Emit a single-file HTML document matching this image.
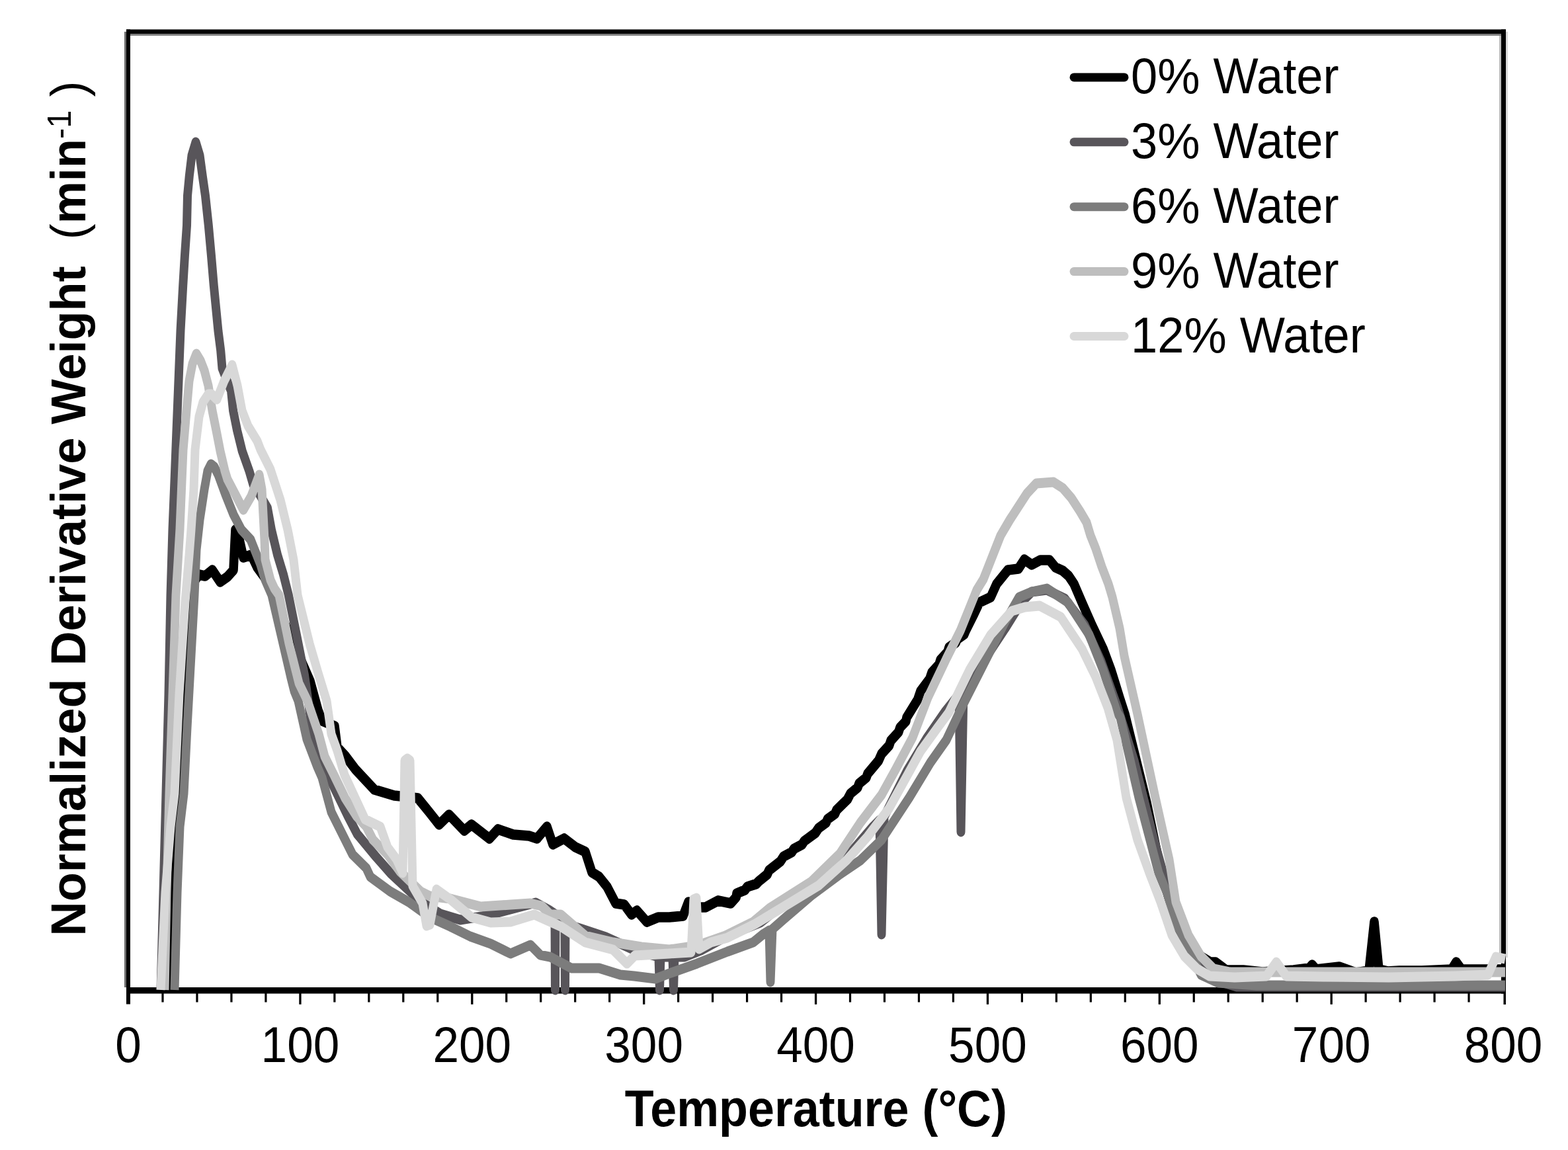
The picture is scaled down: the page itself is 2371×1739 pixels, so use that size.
<!DOCTYPE html>
<html><head><meta charset="utf-8"><title>Normalized Derivative Weight vs Temperature</title>
<style>html,body{margin:0;padding:0;background:#fff;}body{width:2371px;height:1739px;}svg{display:block;}</style>
</head><body>
<svg width="2371" height="1739" viewBox="0 0 2371 1739">
<rect x="0" y="0" width="2371" height="1739" fill="#ffffff"/>
<rect x="188" y="48" width="3" height="1445" fill="#6e6e6e"/>
<rect x="197" y="51" width="2073" height="3" fill="#7e7e7e"/>
<rect x="2267" y="54" width="3" height="1400" fill="#bdbdbd"/>
<rect x="2277" y="48" width="3" height="1400" fill="#d9d9d9"/>
<rect x="191" y="44.5" width="2086" height="6.5" fill="#000"/>
<rect x="191" y="44.5" width="6" height="1474" fill="#000"/>
<rect x="2270" y="44.5" width="7" height="1458" fill="#000"/>
<rect x="2273.5" y="1500" width="3.5" height="19" fill="#000"/>
<rect x="191" y="1493" width="2086" height="9.5" fill="#000"/>
<rect x="244.38" y="1500" width="3.2" height="15.5" fill="#000"/>
<rect x="296.35" y="1500" width="3.2" height="15.5" fill="#000"/>
<rect x="348.33" y="1500" width="3.2" height="15.5" fill="#000"/>
<rect x="400.30" y="1500" width="3.2" height="15.5" fill="#000"/>
<rect x="452.28" y="1500" width="3.3" height="18.8" fill="#000"/>
<rect x="504.26" y="1500" width="3.2" height="15.5" fill="#000"/>
<rect x="556.23" y="1500" width="3.2" height="15.5" fill="#000"/>
<rect x="608.21" y="1500" width="3.2" height="15.5" fill="#000"/>
<rect x="660.18" y="1500" width="3.2" height="15.5" fill="#000"/>
<rect x="712.16" y="1500" width="3.3" height="18.8" fill="#000"/>
<rect x="764.14" y="1500" width="3.2" height="15.5" fill="#000"/>
<rect x="816.11" y="1500" width="3.2" height="15.5" fill="#000"/>
<rect x="868.09" y="1500" width="3.2" height="15.5" fill="#000"/>
<rect x="920.06" y="1500" width="3.2" height="15.5" fill="#000"/>
<rect x="972.04" y="1500" width="3.3" height="18.8" fill="#000"/>
<rect x="1024.02" y="1500" width="3.2" height="15.5" fill="#000"/>
<rect x="1075.99" y="1500" width="3.2" height="15.5" fill="#000"/>
<rect x="1127.97" y="1500" width="3.2" height="15.5" fill="#000"/>
<rect x="1179.94" y="1500" width="3.2" height="15.5" fill="#000"/>
<rect x="1231.92" y="1500" width="3.3" height="18.8" fill="#000"/>
<rect x="1283.90" y="1500" width="3.2" height="15.5" fill="#000"/>
<rect x="1335.87" y="1500" width="3.2" height="15.5" fill="#000"/>
<rect x="1387.85" y="1500" width="3.2" height="15.5" fill="#000"/>
<rect x="1439.82" y="1500" width="3.2" height="15.5" fill="#000"/>
<rect x="1491.80" y="1500" width="3.3" height="18.8" fill="#000"/>
<rect x="1543.78" y="1500" width="3.2" height="15.5" fill="#000"/>
<rect x="1595.75" y="1500" width="3.2" height="15.5" fill="#000"/>
<rect x="1647.73" y="1500" width="3.2" height="15.5" fill="#000"/>
<rect x="1699.70" y="1500" width="3.2" height="15.5" fill="#000"/>
<rect x="1751.68" y="1500" width="3.3" height="18.8" fill="#000"/>
<rect x="1803.66" y="1500" width="3.2" height="15.5" fill="#000"/>
<rect x="1855.63" y="1500" width="3.2" height="15.5" fill="#000"/>
<rect x="1907.61" y="1500" width="3.2" height="15.5" fill="#000"/>
<rect x="1959.58" y="1500" width="3.2" height="15.5" fill="#000"/>
<rect x="2011.56" y="1500" width="3.3" height="18.8" fill="#000"/>
<rect x="2063.54" y="1500" width="3.2" height="15.5" fill="#000"/>
<rect x="2115.51" y="1500" width="3.2" height="15.5" fill="#000"/>
<rect x="2167.49" y="1500" width="3.2" height="15.5" fill="#000"/>
<rect x="2219.46" y="1500" width="3.2" height="15.5" fill="#000"/>
<g transform="scale(1,1.15)">
<polyline points="255.0,1301.7 262.0,1173.9 270.0,1043.5 277.0,913.0 284.0,808.7 293.0,765.2 301.0,755.7 310.0,757.4 321.0,749.6 333.0,765.2 344.0,758.3 353.0,749.6 356.0,696.5 362.0,709.6 368.0,733.0 380.0,729.6 389.0,746.1 405.0,765.2 420.0,800.0 445.0,847.8 469.0,895.7 481.0,933.9 487.0,947.8 506.0,954.8 510.0,982.6 522.0,993.9 538.0,1012.2 566.0,1038.3 596.0,1046.1 615.0,1047.8 632.0,1049.6 649.0,1067.8 664.0,1084.3 679.0,1071.3 702.0,1092.2 713.0,1084.3 740.0,1102.6 753.0,1090.4 776.0,1097.4 800.0,1099.1 812.0,1102.6 827.0,1087.0 836.0,1110.4 853.0,1102.6 870.0,1113.9 885.0,1120.0 895.0,1147.0 906.0,1153.0 918.0,1166.1 931.0,1187.8 944.0,1189.6 955.0,1202.6 963.0,1197.4 978.0,1212.2 995.0,1206.1 1012.0,1206.1 1033.0,1204.3 1041.0,1186.1 1047.0,1193.0 1067.0,1193.0 1086.0,1184.3 1105.0,1187.8 1113.2,1179.7 1114.0,1174.8 1126.4,1170.3 1130.0,1166.1 1143.6,1162.3 1148.0,1158.3 1160.1,1149.8 1163.0,1144.3 1179.9,1132.9 1185.0,1126.1 1197.2,1120.6 1200.5,1116.1 1212.7,1110.6 1216.0,1106.1 1232.9,1095.3 1238.0,1088.7 1249.0,1081.8 1251.5,1077.0 1262.5,1070.1 1265.0,1065.2 1281.4,1051.2 1286.0,1043.5 1296.8,1035.6 1299.0,1030.4 1309.8,1022.6 1312.0,1017.4 1328.5,1000.2 1333.0,991.3 1344.6,980.2 1347.0,973.9 1358.6,962.8 1361.0,956.5 1369.8,948.5 1371.0,943.5 1387.6,920.0 1392.0,908.7 1405.8,892.6 1409.0,884.3 1419.9,873.9 1422.0,867.8 1432.9,857.3 1435.0,851.3 1445.3,845.0 1447.5,840.4 1457.8,834.2 1460.0,829.6 1473.0,807.0 1481.0,792.2 1498.0,785.2 1507.0,767.8 1524.0,749.6 1540.0,747.8 1549.0,735.7 1560.0,742.6 1573.0,736.5 1587.0,736.5 1596.0,746.1 1607.0,750.4 1616.0,757.4 1624.0,767.8 1636.0,792.2 1651.0,821.7 1668.0,853.0 1680.0,880.9 1693.0,917.4 1701.0,939.1 1734.0,1055.7 1756.0,1147.8 1780.0,1217.4 1805.0,1252.2 1830.0,1265.2 1838.0,1265.2 1854.0,1275.7 1880.0,1275.7 1909.0,1278.3 1956.0,1275.7 1980.0,1273.0 1984.0,1268.7 1990.0,1274.8 2025.0,1271.3 2050.0,1279.1 2070.0,1276.5 2078.0,1212.2 2085.0,1274.8 2098.0,1277.4 2116.0,1276.5 2150.0,1276.5 2195.0,1274.8 2202.0,1265.2 2210.0,1274.8 2276.0,1274.8" fill="none" stroke="#000000" stroke-width="13.6" stroke-linejoin="round" stroke-linecap="butt"/>
<polyline points="243.0,1301.7 247.0,1173.9 251.0,1043.5 255.0,913.0 258.0,782.6 261.0,695.7 264.0,632.2 267.0,566.1 270.0,500.9 273.0,434.8 276.7,375.7 279.4,336.5 282.5,296.5 283.5,257.4 286.3,231.3 290.0,204.3 296.0,187.0 302.0,204.3 306.2,231.3 310.5,257.4 315.3,296.5 319.5,336.5 323.3,375.7 329.9,434.8 333.7,460.9 336.0,484.3 343.0,500.0 349.5,513.9 352.6,540.0 358.6,566.1 366.2,593.0 376.8,619.1 383.0,637.4 394.0,652.2 404.4,667.8 410.4,696.5 419.5,729.6 428.6,755.7 436.1,781.7 448.4,834.8 460.5,887.8 466.0,921.7 472.0,960.0 485.0,991.3 498.0,1022.6 512.0,1047.8 526.0,1073.0 540.0,1096.5 569.0,1127.0 591.0,1148.7 620.0,1172.2 636.0,1185.2 666.0,1201.7 696.0,1209.6 734.0,1204.3 772.0,1195.7 810.0,1187.0 830.0,1196.5 839.0,1201.7 839.5,1301.7 840.0,1204.3 854.0,1213.0 854.5,1301.7 855.0,1214.8 880.0,1221.7 916.0,1232.2 960.0,1249.6 996.0,1258.3 997.5,1301.7 999.0,1258.3 1017.0,1258.3 1018.5,1301.7 1020.0,1258.3 1035.0,1258.3 1060.0,1249.6 1100.0,1230.4 1150.0,1213.0 1206.0,1173.9 1250.0,1147.8 1290.0,1117.4 1320.0,1087.0 1330.0,1078.3 1333.0,1228.7 1337.0,1073.9 1372.0,1013.0 1401.0,971.3 1430.0,934.8 1450.0,913.0 1453.0,1093.9 1457.0,908.7 1487.0,869.6 1520.0,826.1 1545.0,791.3 1560.0,778.3 1583.0,775.7 1610.0,787.0 1640.0,821.7 1665.0,869.6 1690.0,930.4 1715.0,1000.0 1745.0,1104.3 1770.0,1182.6 1800.0,1252.2 1830.0,1287.0 1870.0,1297.4 2276.0,1297.4" fill="none" stroke="#58555a" stroke-width="13.0" stroke-linejoin="round" stroke-linecap="butt"/>
<polyline points="264.0,1301.7 268.0,1173.9 272.0,1087.0 278.0,1043.5 283.0,956.5 294.0,782.6 297.0,722.6 302.0,683.5 309.0,643.5 314.0,619.1 319.0,610.4 324.0,613.9 330.0,624.3 341.0,650.4 353.0,676.5 365.0,696.5 379.0,709.6 394.0,742.6 401.0,762.6 411.0,782.6 428.0,846.1 440.0,891.3 445.0,908.7 451.0,921.7 464.0,972.2 480.0,1008.7 487.0,1022.6 501.0,1067.8 533.0,1123.5 554.0,1141.7 560.0,1153.0 590.0,1172.2 618.0,1186.1 650.0,1206.1 681.0,1218.3 711.0,1231.3 742.0,1240.9 772.0,1253.9 802.0,1242.6 817.0,1255.7 832.0,1258.3 864.0,1273.0 906.0,1273.0 938.0,1281.7 959.0,1283.5 991.0,1287.0 1012.0,1280.0 1054.0,1267.0 1100.0,1251.3 1139.0,1239.1 1155.0,1227.8 1163.0,1223.5 1165.0,1291.3 1168.0,1221.7 1185.0,1208.7 1227.0,1177.4 1270.0,1149.6 1301.0,1131.3 1333.0,1104.3 1354.0,1076.5 1375.0,1048.7 1407.0,1002.6 1431.0,973.0 1456.0,927.0 1488.0,872.2 1520.0,817.4 1541.0,785.2 1560.0,778.3 1583.0,773.9 1615.0,792.2 1647.0,834.8 1668.0,880.9 1689.0,936.5 1694.0,943.5 1722.0,1048.7 1752.0,1147.8 1765.0,1174.8 1778.0,1213.0 1797.0,1247.0 1816.0,1281.7 1842.0,1292.2 1900.0,1295.7 2276.0,1295.7" fill="none" stroke="#7c7c7c" stroke-width="13.0" stroke-linejoin="round" stroke-linecap="butt"/>
<polyline points="249.0,1301.7 252.0,1173.9 256.0,1043.5 261.0,913.0 266.0,782.6 272.0,695.7 275.0,632.2 277.0,591.3 282.0,540.0 286.0,500.9 291.0,478.3 297.0,465.2 303.0,473.9 309.0,487.0 315.0,507.0 321.0,540.0 327.0,566.1 333.0,593.0 340.0,619.1 344.0,630.4 356.0,650.4 368.0,670.4 380.0,652.2 392.0,624.3 396.0,643.5 400.0,709.6 401.0,735.7 409.0,762.6 415.0,773.9 422.0,782.6 437.0,846.1 452.0,898.3 465.0,921.7 482.0,965.2 491.0,994.8 505.0,1019.1 522.0,1049.6 539.0,1073.0 554.0,1087.0 564.0,1104.3 586.0,1123.5 605.0,1146.1 636.0,1172.2 650.0,1178.3 681.0,1181.7 727.0,1192.2 772.0,1189.6 802.0,1187.8 819.0,1191.3 832.0,1202.6 848.0,1202.6 885.0,1230.4 927.0,1239.1 970.0,1245.2 1012.0,1248.7 1054.0,1243.5 1097.0,1230.4 1139.0,1212.2 1164.0,1193.9 1227.0,1159.1 1270.0,1122.6 1301.0,1081.7 1333.0,1045.2 1354.0,1012.2 1380.0,969.6 1403.0,917.4 1431.0,866.1 1452.0,829.6 1477.0,775.7 1487.0,761.7 1500.0,733.0 1513.0,704.3 1527.0,683.5 1540.0,666.1 1553.0,648.7 1567.0,635.7 1580.0,634.8 1593.0,633.9 1607.0,641.7 1620.0,654.8 1633.0,672.2 1643.0,687.0 1649.0,704.3 1657.0,721.7 1666.0,745.2 1676.0,767.8 1682.0,785.2 1693.0,826.1 1700.0,862.6 1720.0,939.1 1747.0,1048.7 1768.0,1130.4 1778.0,1186.1 1797.0,1229.6 1816.0,1257.4 1835.0,1273.9 1860.0,1278.3 2276.0,1278.3" fill="none" stroke="#bebebe" stroke-width="13.0" stroke-linejoin="round" stroke-linecap="butt"/>
<polyline points="243.0,1301.7 250.0,1173.9 258.0,1087.0 264.0,1043.5 271.0,913.0 280.0,791.3 286.0,730.4 289.0,696.5 293.0,643.5 295.0,591.3 301.0,547.8 307.0,528.7 315.0,518.3 320.0,518.3 328.0,525.2 339.0,500.9 351.0,480.0 359.0,507.0 366.0,540.0 375.0,560.0 389.0,580.0 394.0,591.3 409.0,617.4 424.0,657.4 435.0,696.5 444.0,736.5 450.0,782.6 468.0,846.1 482.0,887.8 494.0,921.7 501.0,965.2 510.0,987.0 521.0,1019.1 552.0,1077.4 575.0,1087.0 586.0,1113.9 600.0,1130.4 609.0,1147.8 612.0,1000.0 616.0,997.4 620.0,1000.0 624.0,1165.2 639.0,1187.8 645.0,1217.4 650.0,1215.7 660.0,1169.6 681.0,1182.6 713.0,1206.1 742.0,1213.0 772.0,1212.2 808.0,1202.6 848.0,1218.3 885.0,1239.1 927.0,1248.7 948.0,1267.0 960.0,1256.5 1012.0,1253.9 1045.0,1252.2 1049.0,1182.6 1053.0,1180.9 1057.0,1247.8 1075.0,1239.1 1100.0,1233.0 1142.0,1214.8 1195.0,1187.0 1238.0,1164.3 1280.0,1131.3 1312.0,1100.0 1344.0,1063.5 1365.0,1030.4 1392.0,987.8 1418.0,956.5 1435.0,936.5 1466.0,880.9 1498.0,834.8 1530.0,803.5 1550.0,798.3 1572.0,796.5 1604.0,811.3 1636.0,853.0 1657.0,890.4 1675.0,930.4 1689.0,973.0 1703.0,1048.7 1720.0,1104.3 1738.0,1147.8 1755.0,1186.1 1772.0,1229.6 1791.0,1257.4 1810.0,1273.9 1829.0,1283.5 1867.0,1285.2 1915.0,1283.5 1930.0,1265.2 1945.0,1283.5 2000.0,1284.3 2100.0,1285.2 2200.0,1283.5 2250.0,1281.7 2262.0,1258.3 2276.0,1260.9" fill="none" stroke="#d8d8d8" stroke-width="13.0" stroke-linejoin="round" stroke-linecap="butt"/>
</g>
<text transform="translate(194.0,1606) scale(0.93,1)" font-family="'Liberation Sans', Arial, sans-serif" font-size="76.5" text-anchor="middle" fill="#000">0</text>
<text transform="translate(453.9,1606) scale(0.93,1)" font-family="'Liberation Sans', Arial, sans-serif" font-size="76.5" text-anchor="middle" fill="#000">100</text>
<text transform="translate(713.8,1606) scale(0.93,1)" font-family="'Liberation Sans', Arial, sans-serif" font-size="76.5" text-anchor="middle" fill="#000">200</text>
<text transform="translate(973.6,1606) scale(0.93,1)" font-family="'Liberation Sans', Arial, sans-serif" font-size="76.5" text-anchor="middle" fill="#000">300</text>
<text transform="translate(1233.5,1606) scale(0.93,1)" font-family="'Liberation Sans', Arial, sans-serif" font-size="76.5" text-anchor="middle" fill="#000">400</text>
<text transform="translate(1493.4,1606) scale(0.93,1)" font-family="'Liberation Sans', Arial, sans-serif" font-size="76.5" text-anchor="middle" fill="#000">500</text>
<text transform="translate(1753.3,1606) scale(0.93,1)" font-family="'Liberation Sans', Arial, sans-serif" font-size="76.5" text-anchor="middle" fill="#000">600</text>
<text transform="translate(2013.2,1606) scale(0.93,1)" font-family="'Liberation Sans', Arial, sans-serif" font-size="76.5" text-anchor="middle" fill="#000">700</text>
<text transform="translate(2273.0,1606) scale(0.93,1)" font-family="'Liberation Sans', Arial, sans-serif" font-size="76.5" text-anchor="middle" fill="#000">800</text>
<text transform="translate(1233.8,1702.5) scale(0.933,1)" font-family="'Liberation Sans', Arial, sans-serif" font-size="77" font-weight="bold" text-anchor="middle" fill="#000">Temperature (°C)</text>
<text transform="translate(129,769) rotate(-90) scale(0.975,1)" x="0" y="0" font-family="'Liberation Sans', Arial, sans-serif" font-size="74" font-weight="bold" text-anchor="middle" fill="#000" xml:space="preserve">Normalized Derivative Weight  <tspan font-weight="normal">(</tspan>min<tspan font-size="50" font-weight="normal" dy="-22">-1</tspan><tspan dy="22"> </tspan><tspan font-weight="normal">)</tspan></text>
<line x1="1624" y1="116.9" x2="1700" y2="116.9" stroke="#000000" stroke-width="13" stroke-linecap="round"/>
<text transform="translate(1710,141.2) scale(0.945,1)" font-family="'Liberation Sans', Arial, sans-serif" font-size="76.5" fill="#000">0% Water</text>
<line x1="1624" y1="214.8" x2="1700" y2="214.8" stroke="#58555a" stroke-width="13" stroke-linecap="round"/>
<text transform="translate(1710,239.1) scale(0.945,1)" font-family="'Liberation Sans', Arial, sans-serif" font-size="76.5" fill="#000">3% Water</text>
<line x1="1624" y1="312.7" x2="1700" y2="312.7" stroke="#7c7c7c" stroke-width="13" stroke-linecap="round"/>
<text transform="translate(1710,337.0) scale(0.945,1)" font-family="'Liberation Sans', Arial, sans-serif" font-size="76.5" fill="#000">6% Water</text>
<line x1="1624" y1="410.6" x2="1700" y2="410.6" stroke="#bebebe" stroke-width="13" stroke-linecap="round"/>
<text transform="translate(1710,434.9) scale(0.945,1)" font-family="'Liberation Sans', Arial, sans-serif" font-size="76.5" fill="#000">9% Water</text>
<line x1="1624" y1="508.5" x2="1700" y2="508.5" stroke="#d8d8d8" stroke-width="13" stroke-linecap="round"/>
<text transform="translate(1710,532.8) scale(0.945,1)" font-family="'Liberation Sans', Arial, sans-serif" font-size="76.5" fill="#000">12% Water</text>
</svg>
</body></html>
